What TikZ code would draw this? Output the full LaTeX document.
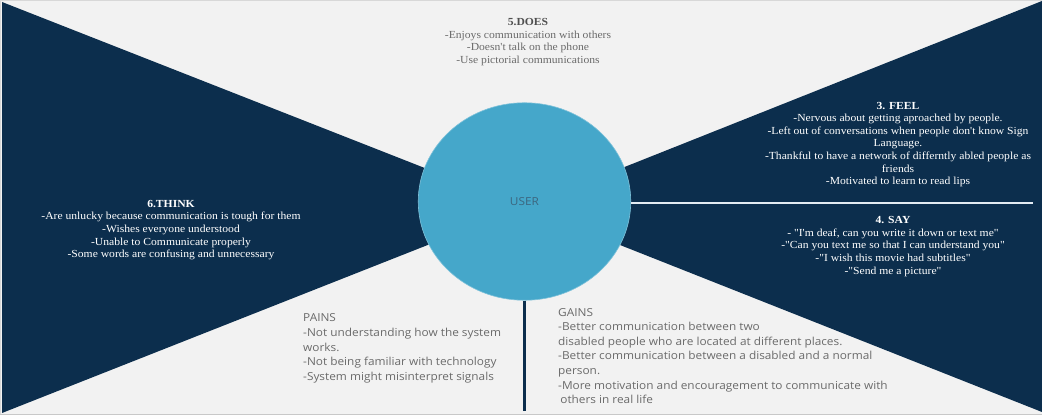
\documentclass[tikz,border=0pt]{standalone}
\usepackage{fontspec}
\setmainfont{Liberation Serif}[Ligatures=TeXOff]
\newfontfamily\uisans{Open Sans}
\usetikzlibrary{shapes.geometric}

\definecolor{paper}{HTML}{F2F2F2}
\definecolor{navy}{HTML}{0C2E4D}
\definecolor{userblue}{HTML}{45A7CA}
\definecolor{userring}{HTML}{7FC2DA}
\definecolor{softgray}{HTML}{6A6A6A}
\definecolor{titlegray}{HTML}{4F4F4F}
\definecolor{usertext}{HTML}{3C667F}
\definecolor{rule}{HTML}{E4ECF3}
\definecolor{framegray}{HTML}{C8C8C8}

\tikzset{
  serifblock/.style={inner sep=0, align=center, xscale=1.076,
    font=\fontsize{10.8}{12.6}\selectfont},
  darkblock/.style={serifblock, text=white},
  lightblock/.style={serifblock, text=softgray},
  sansblock/.style={inner sep=0, align=left, anchor=west, xscale=1.076,
    text=softgray, font=\uisans\fontsize{11}{14.6}\selectfont},
  hub/.style={circle, fill=userblue, draw=userring, line width=0.6,
    minimum size=197.5, inner sep=0, xscale=1.076,
    text=usertext, font=\uisans\fontsize{11}{13}\selectfont},
  whiterule/.style={draw=rule, line width=2.2},
  navyrule/.style={draw=navy, line width=2.6},
}

\begin{document}
\begin{tikzpicture}[x=1pt, y=-1pt]
  \useasboundingbox (0,0) rectangle (1042,419);

  % paper and frame
  \fill[paper] (0,0) rectangle (1042,419);
  \fill[white!96!paper] (0,414) rectangle (1042,419);
  \draw[framegray, line width=0.8] (0,414) -- (1042,414);
  \draw[framegray!70, line width=0.8] (0.5,414) -- (0.5,0.5) -- (1042,0.5);

  % bow-tie wings meeting behind the hub
  \coordinate (apex) at (524,207);
  \fill[navy] (2,2) -- (apex) -- (2,413) -- cycle;
  \fill[navy] (1042,1) -- (apex) -- (1042,412) -- cycle;

  % central hub
  \node[hub] (user) at (524.5,201.5) {USER};

  % dividers
  \coordinate (hend) at (1033,203);
  \coordinate (vend) at (525,411);
  \draw[whiterule] (user.east |- hend) -- (hend);
  \draw[navyrule] (user.south) -- (user.south |- vend);

  % quadrant texts
  \node[lightblock] (does) at (528,42) {%
    {\color{titlegray}\textbf{5.DOES}}\\
    -Enjoys communication with others\\
    -Doesn't talk on the phone\\
    -Use pictorial communications};

  \node[darkblock] (feel) at (898,144.5) {%
    \textbf{3. FEEL}\\
    -Nervous about getting aproached by people.\\
    -Left out of conversations when people don't know Sign\\
    Language.\\
    -Thankful to have a network of differntly abled people as\\
    friends\\
    -Motivated to learn to read lips};

  \node[darkblock] (say) at (893,246.5) {%
    \textbf{4. SAY}\\
    - "I'm deaf, can you write it down or text me"\\
    -"Can you text me so that I can understand you"\\
    -"I wish this movie had subtitles"\\
    -"Send me a picture"};

  \node[darkblock] (think) at (171,230) {%
    \textbf{6.THINK}\\
    -Are unlucky because communication is tough for them\\
    -Wishes everyone understood\\
    -Unable to Communicate properly\\
    -Some words are confusing and unnecessary};

  \node[sansblock] (pains) at (303,348.5) {%
    PAINS\\
    -Not understanding how the system\\
    works.\\
    -Not being familiar with technology\\
    -System might misinterpret signals};

  \node[sansblock] (gains) at (558,356) {%
    GAINS\\
    -Better communication between two\\
    disabled people who are located at different places.\\
    -Better communication between a disabled and a normal\\
    person.\\
    -More motivation and encouragement to communicate with\\
    \hspace*{2pt}others in real life};
\end{tikzpicture}
\end{document}
